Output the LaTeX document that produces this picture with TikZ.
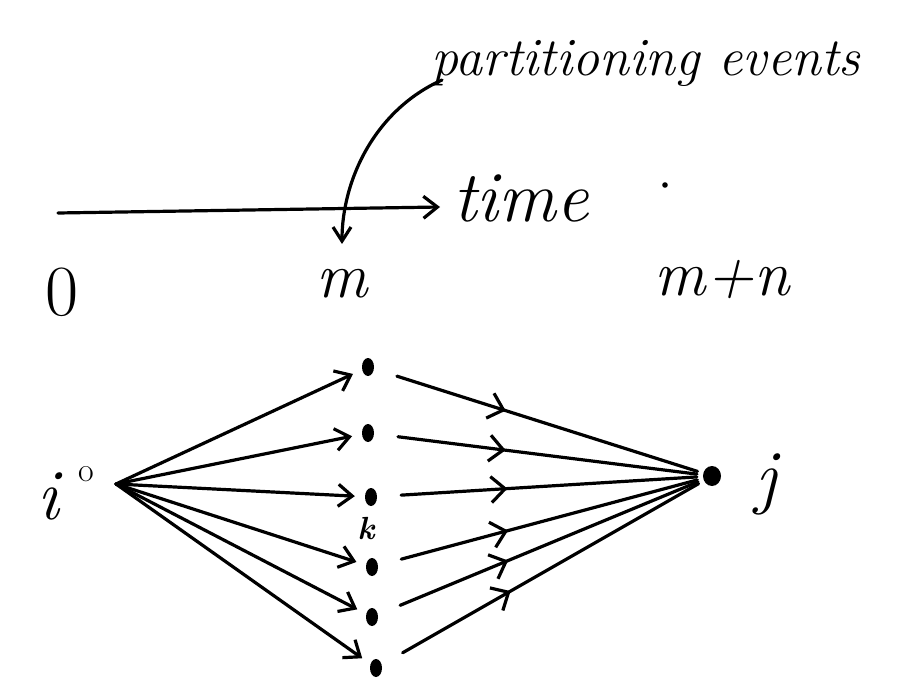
\documentclass[tikz,border=0pt]{standalone}
\usetikzlibrary{arrows.meta,decorations.markings,shapes.geometric}
\begin{document}
\begin{tikzpicture}[x=1pt,y=-1pt,
  ink/.style={line width=3.2pt,line cap=round,line join=round},
  tip/.style={-{Straight Barb[length=14pt,width=22pt,line width=3.2pt]}},
  dot/.style={ellipse,fill=black,minimum width=12pt,minimum height=18pt,inner sep=0pt},
  inedge/.style={ink,tip,shorten >=10pt},
  outedge/.style={ink,shorten <=24pt,shorten >=6pt,
    postaction={decorate},
    decoration={markings,mark=at position 0.4 with {\arrow{Straight Barb[length=14pt,width=26pt,line width=3.2pt]}}}},
  hand/.style={font=\fontsize{72}{76}\selectfont\itshape},
  lab/.style={font=\fontsize{64}{68}\selectfont\itshape}
]
\useasboundingbox (0,0) rectangle (899,700);
% time axis
\coordinate (t0) at (58,213);
\coordinate (t1) at (440,207);
\draw[ink,tip] (t0) -- (t1);
\node[hand,anchor=base west] (time) at (450,222) {time};
\fill (665,185) circle (2.8pt);
% partitioning events
\node[font=\fontsize{54}{60}\selectfont\itshape,anchor=base west] (pe) at (428,76) {partitioning events};
\coordinate (pstart) at (442,80);
\coordinate (pend) at (342,244);
\draw[ink,-{Straight Barb[length=14pt,width=18pt,line width=3.2pt]}] (pstart) .. controls (375,110) and (342,180) .. (pend);
% time labels
\node[font=\fontsize{72}{76}\selectfont] (l0) at (62,292) {0};
\node[lab] (lm) at (342,284) {m};
\node[lab] (lmn) at (722,280) {m+n};
% nodes
\node[dot] (a1) at (368,367) {};
\node[dot] (a2) at (368,433) {};
\node[dot] (a3) at (371,497) {};
\node[dot] (a4) at (372,567) {};
\node[dot] (a5) at (372,617) {};
\node[dot] (a6) at (376,668) {};
\node[font=\fontsize{32}{34}\selectfont\bfseries\itshape] (k) at (366,529) {k};
\node[dot,minimum width=18pt,minimum height=20pt] (j) at (712,476) {};
\node[hand] (jl) at (766,484) {j};
\node[hand] (il) at (48,496) {i};
\node[font=\fontsize{34}{34}\selectfont] (ideg) at (86,474) {o};
\coordinate (i) at (116,484);
% edges from i
\foreach \n in {a1,a2,a3,a4,a5,a6} \draw[inedge] (i) -- (\n);
% edges to j
\foreach \n in {a1,a2,a3,a4,a5,a6} \draw[outedge] (\n) -- (j);
\end{tikzpicture}
\end{document}
